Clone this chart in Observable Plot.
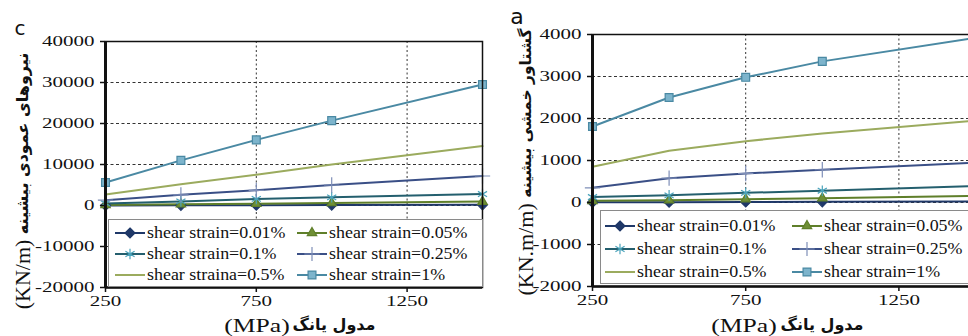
<!DOCTYPE html>
<html><head><meta charset="utf-8">
<script src="https://cdn.jsdelivr.net/npm/d3@7"></script>
<script src="https://cdn.jsdelivr.net/npm/@observablehq/plot@0.6"></script>
<style>
html,body{margin:0;padding:0;background:#fff;}
body{width:968px;height:336px;overflow:hidden;position:relative;font-family:"Liberation Serif","Times New Roman",Tinos,"DejaVu Serif",serif;}
.panel{position:absolute;top:0;height:336px;}
.panel svg{max-width:none !important;}
.lbl{position:absolute;white-space:nowrap;color:#111;}
.lbl span{display:inline-block;vertical-align:middle;}
.fa{font-family:"DejaVu Sans",sans-serif;font-weight:bold;}
.legend{position:absolute;background:#fff;border:1px solid #8a8a8a;box-sizing:border-box;}
.item{position:absolute;display:flex;align-items:center;white-space:nowrap;font-size:16px;color:#111;transform:translateY(-50%);}
.item svg{display:block;margin-right:2px;}
.item span{display:inline-block;transform:scaleX(1.12);transform-origin:left center;}
</style>
</head><body>
<div id="c" class="panel" style="left:0;width:490px"></div>
<div id="a" class="panel" style="left:490px;width:500px"></div>
<script>
// ---- data ----
const youngModulus = [250, 500, 750, 1000, 1500];           // MPa
const xTicks = [250, 750, 1250];

// panel c: maximum normal force (KN/m)
const cLabels = ["shear strain=0.01%", "shear strain=0.05%", "shear strain=0.1%", "shear strain=0.25%", "shear straina=0.5%", "shear strain=1%"];
const c_001 = [0, 40, 70, 100, 160];
const c_005 = [150, 300, 450, 600, 950];
const c_01  = [500, 1000, 1600, 2000, 2800];
const c_025 = [1300, 2600, 3700, 5000, 7200];
const c_05  = [2700, 5200, 7500, 10000, 14500];
const c_1   = [5600, 11000, 16000, 20700, 29500];
const cYTicks = [-20000, -10000, 0, 10000, 20000, 30000, 40000];

// panel a: maximum bending moment (KN.m/m)
const aLabels = ["shear strain=0.01%", "shear strain=0.05%", "shear strain=0.1%", "shear strain=0.25%", "shear strain=0.5%", "shear strain=1%"];
const a_001 = [5, 8, 12, 15, 25];
const a_005 = [40, 55, 80, 100, 160];
const a_01  = [130, 170, 230, 280, 390];
const a_025 = [350, 580, 690, 780, 950];
const a_05  = [850, 1230, 1460, 1640, 1950];
const a_1   = [1810, 2500, 2980, 3360, 3920];
const aYTicks = [-2000, -1000, 0, 1000, 2000, 3000, 4000];

// ---- styles ----
const styles = [
  {line:"#1f3868", symbol:"diamond2", fill:"#1f3868", stroke:"#1f3868", r:4.5},
  {line:"#5f7f2a", symbol:"triangle2", fill:"#6f8f35", stroke:"#5f7f2a", r:4.5},
  {line:"#245f6e", symbol:"asterisk", fill:"none", stroke:"#4aa3bb", r:5},
  {line:"#3a4f86", symbol:"plus", fill:"none", stroke:"#7f8fb8", r:5},
  {line:"#9bab5e", symbol:null},
  {line:"#4a89a3", symbol:"square2", fill:"#7db4cc", stroke:"#4a89a3", r:5}
];
const serif = '"Liberation Serif","Times New Roman",Tinos,"DejaVu Serif",serif';
const stretch = 1.5;

function chart(el, {width, height, mL, mR, mT, mB, xDomain, yDomain, yTicks, series}) {
  const marks = [];
  const gridY = yTicks.filter(t => t !== yDomain[0] && t !== yDomain[1]);
  marks.push(Plot.ruleY(gridY, {stroke:"#333", strokeWidth:1, strokeDasharray:"3,2.5"}));
  marks.push(Plot.ruleX(xTicks.filter(t => t > xDomain[0]), {stroke:"#333", strokeWidth:1, strokeDasharray:"2,2.5"}));
  series.forEach((vals, k) => {
    const st = styles[k];
    const rows = youngModulus.map((x, i) => ({x, y: vals[i]}));
    marks.push(Plot.line(rows, {x:"x", y:"y", stroke: st.line, strokeWidth: 2}));
  });
  series.forEach((vals, k) => {
    const st = styles[k];
    if (!st.symbol) return;
    const rows = youngModulus.map((x, i) => ({x, y: vals[i]}));
    marks.push(Plot.dot(rows, {x:"x", y:"y", symbol: st.symbol, r: st.r, fill: st.fill, stroke: st.stroke, strokeWidth: 1.2}));
  });
  marks.push(Plot.frame({stroke:"#111", strokeWidth:1.5}));
  marks.push(Plot.ruleX([xDomain[0]], {stroke:"#111", strokeWidth:3}));
  marks.push(Plot.ruleY([yDomain[0]], {stroke:"#111", strokeWidth:2.5}));
  marks.push(Plot.axisY(yTicks, {tickSize:5, tickPadding:6, tickFormat: d => String(d), stroke:"#111", strokeWidth:1.5, fontSize:14, label:null}));
  marks.push(Plot.axisX(xTicks, {tickSize:5, tickPadding:4, tickFormat: d => String(d), stroke:"#111", strokeWidth:1.5, fontSize:14, label:null}));
  const svg = Plot.plot({
    width, height, marginLeft:mL, marginRight:mR, marginTop:mT, marginBottom:mB,
    x:{domain:xDomain}, y:{domain:yDomain},
    style:{fontFamily:serif, fontSize:"14px", color:"#111", background:"transparent", overflow:"visible"},
    marks
  });
  svg.style.maxWidth = "none";
  // widen tick labels horizontally, as in the reference
  svg.querySelectorAll("text").forEach(t => {
    const tr = t.getAttribute("transform");
    if (tr) t.setAttribute("transform", tr + ` scale(${stretch},1)`);
    else {
      const x = +t.getAttribute("x") || 0, y = +t.getAttribute("y") || 0;
      t.setAttribute("x", 0); t.setAttribute("y", 0);
      t.setAttribute("transform", `translate(${x},${y}) scale(${stretch},1)`);
    }
  });
  el.appendChild(svg);
}

chart(document.getElementById("c"), {width:490, height:336, mL:105, mR:8, mT:41, mB:49,
  xDomain:[250,1500], yDomain:[-20000,40000], yTicks:cYTicks, series:[c_001,c_005,c_01,c_025,c_05,c_1]});
chart(document.getElementById("a"), {width:500, height:336, mL:102, mR:15, mT:34, mB:50,
  xDomain:[250,1500], yDomain:[-2000,4000], yTicks:aYTicks, series:[a_001,a_005,a_01,a_025,a_05,a_1]});

// ---- legends ----
function symbolIcon(st) {
  const ns = "http://www.w3.org/2000/svg";
  const s = document.createElementNS(ns, "svg");
  s.setAttribute("width", 30); s.setAttribute("height", 14);
  const l = document.createElementNS(ns, "line");
  l.setAttribute("x1", 0); l.setAttribute("x2", 30); l.setAttribute("y1", 7); l.setAttribute("y2", 7);
  l.setAttribute("stroke", st.line); l.setAttribute("stroke-width", 2);
  s.appendChild(l);
  if (st.symbol) {
    const map = {diamond2:d3.symbolDiamond2, triangle2:d3.symbolTriangle2, asterisk:d3.symbolAsterisk, plus:d3.symbolPlus, square2:d3.symbolSquare2};
    const p = document.createElementNS(ns, "path");
    p.setAttribute("d", d3.symbol(map[st.symbol], Math.PI * st.r * st.r)());
    p.setAttribute("transform", "translate(15,7)");
    p.setAttribute("fill", st.fill); p.setAttribute("stroke", st.stroke); p.setAttribute("stroke-width", 1.2);
    s.appendChild(p);
  }
  return s;
}
function legend(box, labels, colX, rowY) {
  const d = document.createElement("div");
  d.className = "legend";
  Object.assign(d.style, {left:box[0]+"px", top:box[1]+"px", width:box[2]+"px", height:box[3]+"px"});
  labels.forEach((lab, k) => {
    const it = document.createElement("div");
    it.className = "item";
    it.style.left = colX[k % 2] + "px";
    it.style.top = rowY[Math.floor(k / 2)] + "px";
    it.appendChild(symbolIcon(styles[k]));
    const t = document.createElement("span"); t.textContent = lab; it.appendChild(t);
    d.appendChild(it);
  });
  document.body.appendChild(d);
}
legend([108, 219, 375, 68], cLabels, [6, 188], [13, 34, 55]);
legend([600, 210, 400, 74], aLabels, [4, 191], [15, 38, 61]);

// ---- text labels ----
function label(html, cx, cy, rot, size) {
  const d = document.createElement("div");
  d.className = "lbl";
  d.innerHTML = html;
  d.style.left = cx + "px"; d.style.top = cy + "px"; d.style.fontSize = size + "px";
  d.style.transform = "translate(-50%,-50%)" + (rot ? " rotate(-90deg)" : "");
  document.body.appendChild(d);
}
label('<span>(KN/m)</span> <span class="fa" style="font-size:16px">نیروهای عمودی بیشینه</span>', 22, 181, true, 22);
label('<span>(KN.m/m)</span> <span class="fa" style="font-size:15.5px">گشتاور خمشی بیشینه</span>', 525, 162, true, 22);
label('<span style="transform:scaleX(1.35)">(MPa)</span>', 257, 325, false, 19);
label('<span class="fa">مدول یانگ</span>', 334, 324, false, 16);
label('<span style="transform:scaleX(1.35)">(MPa)</span>', 744, 325, false, 19);
label('<span class="fa">مدول یانگ</span>', 822, 324, false, 16);
label('<span style="font-family:\'DejaVu Sans\';">c</span>', 20, 28, false, 20);
label('<span style="font-family:\'DejaVu Sans\';">a</span>', 517, 16, false, 22);
</script>
</body></html>
